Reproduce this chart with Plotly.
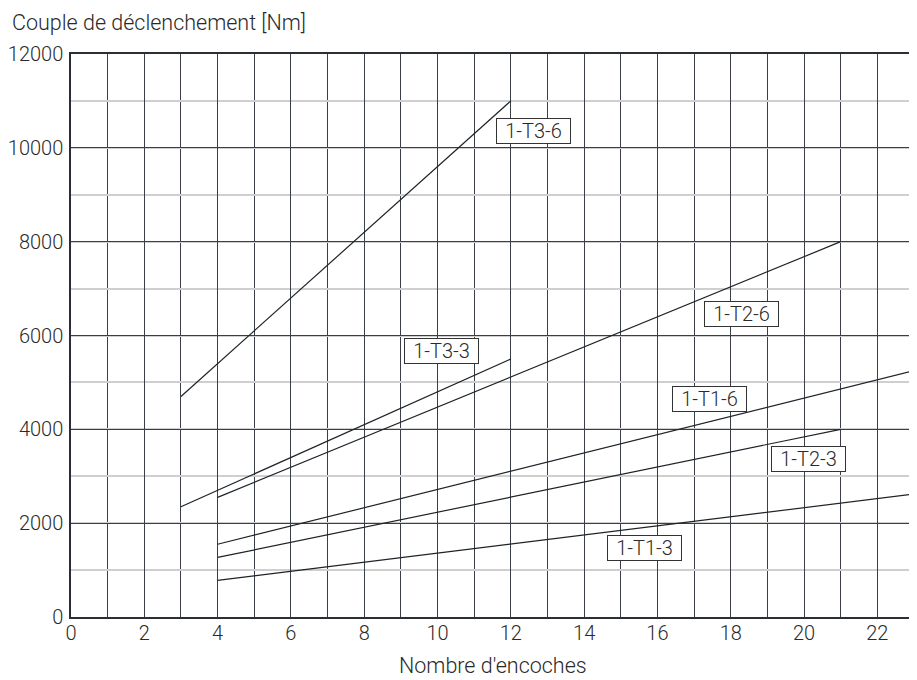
import plotly.graph_objects as go

# ---- data ----
series = ["1-T3-6", "1-T3-3", "1-T2-6", "1-T1-6", "1-T2-3", "1-T1-3"]
notches_start = [3, 3, 4, 4, 4, 4]
notches_end = [12, 12, 21, 23, 21, 23]
torque_start = [4700, 2350, 2550, 1550, 1270, 780]
torque_end = [11000, 5500, 8000, 5250, 4000, 2620]

x_ticks = list(range(0, 23, 2))
y_ticks = list(range(0, 12001, 2000))

FONT = "Roboto, Liberation Sans, sans-serif"
INK = "#2a2a2a"
FNT = dict(family=FONT, size=20, color=INK, weight=300)
TFNT = dict(family=FONT, size=21.5, color=INK, weight=300)

fig = go.Figure()
for name, x0, x1, y0, y1 in zip(series, notches_start, notches_end, torque_start, torque_end):
    fig.add_trace(go.Scatter(x=[x0, x1], y=[y0, y1], mode="lines", name=name,
                             line=dict(color="#1e2229", width=1.2), showlegend=False,
                             hoverinfo="skip"))

# label anchor positions (data coordinates)
label_pos = {
    "1-T3-6": (12.63, 10360),
    "1-T3-3": (10.12, 5665),
    "1-T2-6": (18.3, 6455),
    "1-T1-6": (17.43, 4655),
    "1-T2-3": (20.13, 3374),
    "1-T1-3": (15.66, 1473),
}
for name in series:
    lx, ly = label_pos[name]
    fig.add_annotation(x=lx, y=ly, text=name,
                       showarrow=False, xanchor="center", yanchor="middle",
                       font=FNT, width=71, height=22, align="center",
                       bordercolor="#333", borderwidth=1, borderpad=1, bgcolor="white")

fig.add_annotation(x=0, xref="paper", xanchor="left", xshift=-61,
                   y=1, yref="paper", yanchor="top", yshift=46,
                   text="Couple de déclenchement [Nm]", showarrow=False, font=TFNT)
fig.add_annotation(x=0.5, xref="paper", xanchor="center",
                   y=0, yref="paper", yanchor="middle", yshift=-48,
                   text="Nombre d'encoches", showarrow=False, font=TFNT)

# page body has an 8px margin, so the figure is offset by (8, 8)
fig.update_layout(
    width=909, height=672,
    margin=dict(l=63, r=3, t=46, b=63),
    plot_bgcolor="white", paper_bgcolor="white",
    font=FNT,
    xaxis=dict(range=[0, 23], tickvals=x_ticks, ticktext=[str(v) for v in x_ticks],
               showgrid=True, gridcolor="#3a3f47", gridwidth=1.3,
               minor=dict(dtick=1, showgrid=True, gridcolor="#3a3f47", gridwidth=1.3),
               showline=True, linecolor="#2a2e35", linewidth=1.5, mirror=True,
               zeroline=False, ticks="", ticklabelstandoff=-3, automargin=False),
    yaxis=dict(range=[0, 12000], tickvals=y_ticks, ticktext=[str(v) for v in y_ticks],
               showgrid=True, gridcolor="#3a3f47", gridwidth=1.3,
               minor=dict(dtick=1000, showgrid=True, gridcolor="#cfcfcf", gridwidth=1.5),
               showline=True, linecolor="#2a2e35", linewidth=1.5, mirror=True,
               zeroline=False, ticks="", ticklabelstandoff=2, automargin=False),
)

fig.write_html("out.html")
